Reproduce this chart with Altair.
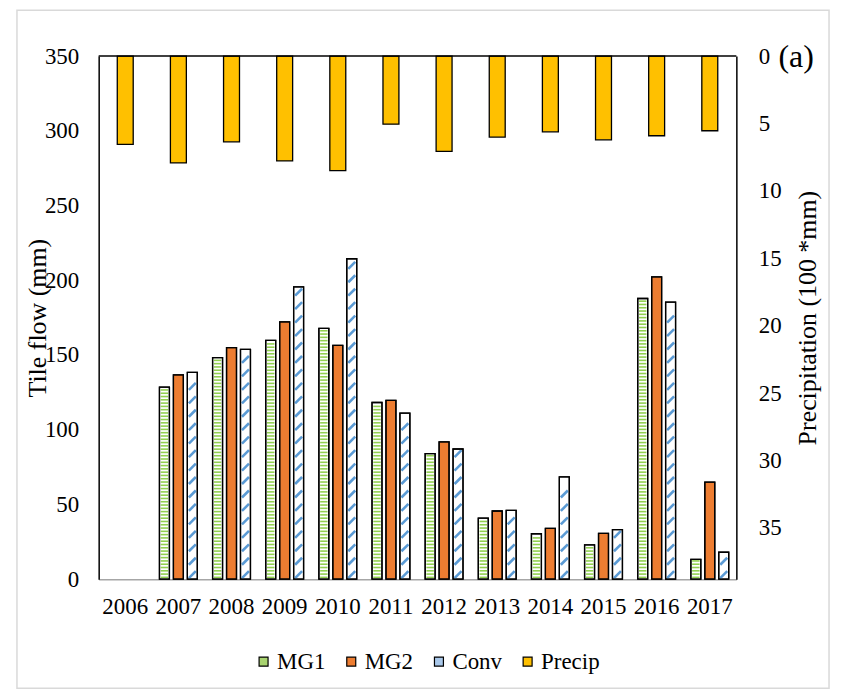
import altair as alt
import pandas as pd

FONT = "Liberation Serif"

years = ["2006", "2007", "2008", "2009", "2010", "2011", "2012",
         "2013", "2014", "2015", "2016", "2017"]
series = ["MG1", "MG2", "Conv"]
mg1 = [None, 128.5, 148.2, 159.8, 167.8, 118.2, 84.0, 40.9, 30.4, 22.9, 187.8, 13.3]
mg2 = [None, 136.7, 154.9, 172.2, 156.4, 119.6, 91.8, 45.6, 34.0, 30.7, 202.2, 64.9]
conv = [None, 138.4, 153.8, 195.6, 214.4, 111.1, 87.1, 46.0, 68.4, 33.1, 185.3, 18.0]
precip = [6.55, 7.93, 6.36, 7.78, 8.50, 5.05, 7.07, 6.01, 5.62, 6.21, 5.91, 5.54]

legend_names = ["MG1", "MG2", "Conv", "Precip"]
legend_colors = ["#a9d470", "#ED7D31", "#a9c8ea", "#FFC000"]

rows = []
for name, vals in zip(series, [mg1, mg2, conv]):
    for y, v in zip(years, vals):
        if v is not None:
            rows.append({"year": y, "series": name, "value": v})
tile_df = pd.DataFrame(rows)
precip_df = pd.DataFrame({"year": years, "precip": precip, "series": ["Precip"] * len(years)})

x_enc = alt.X(
    "year:O", sort=years,
    scale=alt.Scale(domain=years, paddingInner=0, paddingOuter=0),
    axis=alt.Axis(title=None, labelAngle=0, labelFont=FONT, labelFontSize=23,
                  labelColor="black", ticks=False, labelPadding=16,
                  domainColor="#a6a6a6", domainWidth=1.5, grid=False),
)
xoff = alt.XOffset("series:N", sort=series,
                   scale=alt.Scale(domain=series, paddingInner=0.286, paddingOuter=0.548))
tile_scale = alt.Scale(domain=[0, 350], nice=False, zero=True)
left_axis = alt.Axis(
    title="Tile flow (mm)", values=list(range(0, 351, 50)), ticks=False,
    domain=True, domainColor="black", domainWidth=1.5, grid=False,
    labelFont=FONT, labelFontSize=23,
    labelColor="black", labelPadding=20, titleFont=FONT, titleFontSize=26,
    titleFontWeight="normal", titleColor="black", titleX=-61, titleY=262.5,
    titleAngle=270, titleAlign="center", titleBaseline="middle")

base = alt.Chart(tile_df)

bars = base.mark_bar(stroke="black", strokeWidth=1.3).encode(
    x=x_enc, xOffset=xoff,
    y=alt.Y("value:Q", scale=tile_scale, axis=left_axis),
    fill=alt.condition("datum.series == 'MG2'", alt.value("#ED7D31"), alt.value("white")),
)

stripes_mg1 = base.transform_filter("datum.series == 'MG1'").transform_calculate(
    stripe="sequence(1.2, datum.value - 0.6, 2.2)"
).transform_flatten(["stripe"]).mark_point(
    shape="M-1,0L1,0", size=56, filled=False, stroke="#92D050",
    strokeWidth=1.6, opacity=1
).encode(x=x_enc, xOffset=xoff, y=alt.Y("stripe:Q", scale=tile_scale, axis=left_axis))

stripes_conv = base.transform_filter("datum.series == 'Conv'").transform_calculate(
    stripe="sequence(3, datum.value - 2.5, 9)"
).transform_flatten(["stripe"]).mark_point(
    shape="M-1,1L1,-1", size=49, filled=False, stroke="#5B9BD5",
    strokeWidth=2.6, opacity=1
).encode(x=x_enc, xOffset=xoff, y=alt.Y("stripe:Q", scale=tile_scale, axis=left_axis))

outline = base.mark_bar(stroke="black", strokeWidth=1.3, fillOpacity=0).encode(
    x=x_enc, xOffset=xoff, y=alt.Y("value:Q", scale=tile_scale, axis=left_axis))

tile_layer = alt.layer(bars, stripes_mg1, stripes_conv, outline)

precip_bars = alt.Chart(precip_df).mark_bar(width=16, stroke="black", strokeWidth=1.3).encode(
    x=x_enc,
    y=alt.Y("precip:Q", scale=alt.Scale(domain=[0, 38.8], reverse=True, nice=False, zero=True),
            axis=alt.Axis(orient="right", title="Precipitation (100 *mm)",
                          values=list(range(0, 36, 5)), ticks=False, domain=True,
                          domainColor="black", domainWidth=1.5,
                          grid=False, labelFont=FONT, labelFontSize=23,
                          labelColor="black", labelPadding=22, titleFont=FONT,
                          titleFontSize=26, titleFontWeight="normal", titleColor="black",
                          titleX=71, titleY=262.5, titleAngle=270, titleAlign="center",
                          titleBaseline="middle")),
    fill=alt.Fill("series:N", scale=alt.Scale(domain=legend_names, range=legend_colors),
                  legend=alt.Legend(title=None, orient="none", legendX=154, legendY=596,
                                    direction="horizontal", columns=4,
                                    symbolType="square",
                                    symbolSize=81, symbolStrokeColor="black",
                                    symbolStrokeWidth=1.2, symbolOpacity=1, labelFont=FONT,
                                    labelFontSize=23, labelColor="black", labelOffset=2,
                                    columnPadding=14)),
)

label_a = alt.Chart(alt.Data(values=[{"t": "(a)"}])).mark_text(
    font=FONT, fontSize=32, align="center", baseline="middle", color="black"
).encode(text="t:N", x=alt.value(700), y=alt.value(1))

frame = alt.Chart(alt.Data(values=[{"t": "frame"}])).mark_rect(
    fillOpacity=0, stroke="#d9d9d9", strokeWidth=1.5
).encode(x=alt.value(-82), x2=alt.value(733), y=alt.value(-46), y2=alt.value(634.5))

top_line = alt.Chart(alt.Data(values=[{"t": "top"}])).mark_rule(
    color="black", strokeWidth=1.5
).encode(x=alt.value(0), x2=alt.value(640), y=alt.value(0))

chart = alt.layer(tile_layer, precip_bars, top_line, label_a, frame).resolve_scale(
    y="independent"
).properties(
    width=640, height=525,
    autosize=alt.AutoSizeParams(type="none"),
    padding={"left": 91, "top": 47, "right": 100, "bottom": 111},
).configure(background="white").configure_view(stroke=None)

chart.save("out.html", embed_options={"renderer": "svg", "actions": False})
